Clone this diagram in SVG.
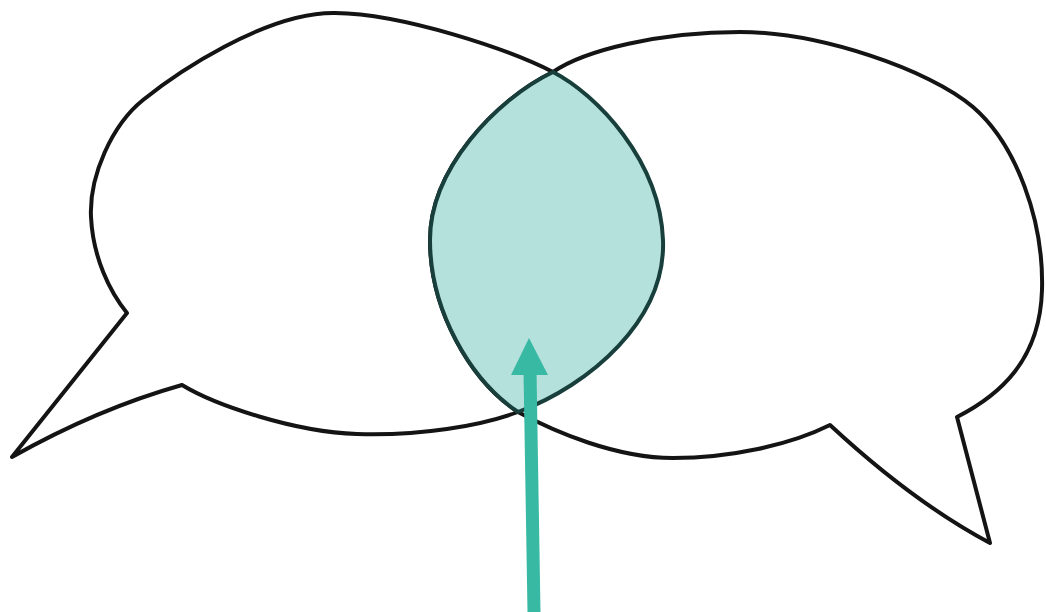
<svg xmlns="http://www.w3.org/2000/svg" width="1046" height="612" viewBox="0 0 1046 612">
  <style>
    .bubble { fill: #ffffff; stroke: #141414; stroke-width: 4; stroke-linejoin: round; stroke-linecap: round; }
    .lens { fill: #b4e1dc; stroke: #183f3b; stroke-width: 4; stroke-linejoin: round; }
    .arrow { stroke: #38b9a4; stroke-width: 13; fill: none; }
    .arrowhead { fill: #38b9a4; }
  </style>
  <rect width="1046" height="612" fill="#ffffff"/>
  <g id="bubble-left">
    <path class="bubble" d="M127,313 C110,292 93,258 91,217 C89,176 112,125 143,100 C174,75 265,12 335,13 C405,14 510,50 553,72 C596,94 660,160 663,240 C666,320 590,385 518,412 C480,426 420,436 357,434 C294,432 215,405 182,385 Q97,409 12,457 L127,313 Z"/>
  </g>
  <g id="bubble-right">
    <path class="bubble" d="M553,72 C585,50 660,32 740,32 C820,32 930,70 973,107 C1016,144 1044,220 1042,290 C1040,360 1000,395 957,417 L990,543 Q913,502 830,425 C790,445 730,458 673,458 C616,458 555,432 518,412 C470,380 430,310 430,240 C430,170 495,100 553,72 Z"/>
  </g>
  <g id="overlap">
    <path class="lens" d="M553,72 C596,94 660,160 663,240 C666,320 590,385 518,412 C470,380 430,310 430,240 C430,170 495,100 553,72 Z"/>
  </g>
  <g id="connectors">
    <line class="arrow" x1="534" y1="612" x2="530" y2="370"/>
    <polygon class="arrowhead" points="529,338 511,375 548,375"/>
  </g>
</svg>
